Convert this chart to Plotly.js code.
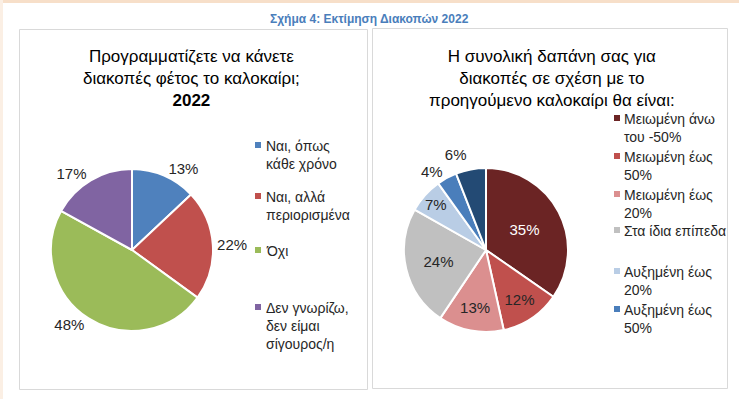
<!DOCTYPE html>
<html><head><meta charset="utf-8">
<script src="https://cdn.plot.ly/plotly-3.0.1.min.js"></script>
<style>html,body{margin:0;padding:0;background:#fff}</style>
</head><body><div id="chart" style="width:739px;height:399px"></div>
<script>
// ---- data ----
const chartTitle = 'Σχήμα 4: Εκτίμηση Διακοπών 2022';
const leftTitle = 'Προγραμματίζετε να κάνετε<br>διακοπές φέτος το καλοκαίρι;<br><b>2022</b>';
const leftLabels = ['Ναι, όπως κάθε χρόνο', 'Ναι, αλλά περιορισμένα', 'Όχι', 'Δεν γνωρίζω, δεν είμαι σίγουρος/η'];
const leftLegendText = ['Ναι, όπως<br>κάθε χρόνο', 'Ναι, αλλά<br>περιορισμένα', 'Όχι', 'Δεν γνωρίζω,<br>δεν είμαι<br>σίγουρος/η'];
const leftValues = [13, 22, 48, 17];

const rightTitle = 'Η συνολική δαπάνη σας για<br>διακοπές σε σχέση με το<br>προηγούμενο καλοκαίρι θα είναι:';
const rightLabels = ['Μειωμένη άνω του -50%', 'Μειωμένη έως 50%', 'Μειωμένη έως 20%', 'Στα ίδια επίπεδα', 'Αυξημένη έως 20%', 'Αυξημένη έως 50%', 'Αυξημένη άνω του 50%'];
const rightLegendText = ['Μειωμένη άνω<br>του -50%', 'Μειωμένη έως<br>50%', 'Μειωμένη έως<br>20%', 'Στα ίδια επίπεδα', 'Αυξημένη έως<br>20%', 'Αυξημένη έως<br>50%'];
const rightValues = [35, 12, 13, 24, 7, 4, 6];

// ---- style ----
const leftColors = ['#4f81bd', '#c0504d', '#9bbb59', '#8064a2'];
const rightColors = ['#6b2424', '#c0504d', '#db8f8f', '#c0c0c0', '#b9cde5', '#4a7ebb', '#234a74'];
const W = 739, H = 399;
const px = x => x / W, py = y => 1 - y / H;
const narrow = "'Liberation Sans Narrow', 'Arial Narrow', 'Liberation Sans', Arial, sans-serif";
const dark = '#262626';

const leftLegendY = [145, 196, 250, 307];
const rightLegendY = [118, 156, 194, 230, 271, 309];

const traces = [
  {
    type: 'pie', labels: leftLabels, values: leftValues, sort: false, direction: 'clockwise', rotation: 0,
    marker: {colors: leftColors, line: {color: '#ffffff', width: 2}},
    texttemplate: '%{value}%', textposition: 'outside', textfont: {family: narrow, size: 15, color: dark},
    domain: {x: [px(51), px(213)], y: [py(331), py(169)]}, showlegend: false, hoverinfo: 'label+value'
  },
  {
    type: 'pie', labels: rightLabels, values: rightValues, sort: false, direction: 'clockwise', rotation: 0,
    marker: {colors: rightColors, line: {color: '#ffffff', width: 2}},
    texttemplate: '%{value}%',
    textposition: ['inside', 'inside', 'inside', 'inside', 'inside', 'outside', 'outside'],
    insidetextorientation: 'horizontal',
    insidetextfont: {family: narrow, size: 15, color: ['#ffffff', dark, dark, dark, dark, dark, dark]},
    outsidetextfont: {family: narrow, size: 15, color: dark},
    domain: {x: [px(404), px(568)], y: [py(332), py(168)]}, showlegend: false, hoverinfo: 'label+value'
  }
];

const shapes = [
  {type: 'rect', xref: 'paper', yref: 'paper', x0: 0, x1: 1, y0: py(3), y1: 1, fillcolor: '#f7dfc9', line: {width: 0}, layer: 'below'},
  {type: 'rect', xref: 'paper', yref: 'paper', x0: 0, x1: px(3), y0: 0, y1: 1, fillcolor: '#fbefe4', line: {width: 0}, layer: 'below'},
  {type: 'rect', xref: 'paper', yref: 'paper', x0: px(19.5), x1: px(367.5), y0: py(389.5), y1: py(29.5), line: {color: '#d9d9d9', width: 1}, layer: 'below'},
  {type: 'rect', xref: 'paper', yref: 'paper', x0: px(372.5), x1: px(727.5), y0: py(388.5), y1: py(28.5), line: {color: '#d9d9d9', width: 1}, layer: 'below'}
];

const annotations = [
  {text: '<b>' + chartTitle + '</b>', x: px(369), y: py(19), xref: 'paper', yref: 'paper', showarrow: false,
   xanchor: 'center', yanchor: 'middle', font: {family: 'Liberation Sans, Arial, sans-serif', size: 12, color: '#4a7ebb'}},
  {text: leftTitle, x: px(191), y: py(78), xref: 'paper', yref: 'paper', showarrow: false,
   xanchor: 'center', yanchor: 'middle', font: {family: narrow, size: 17, color: '#000'}},
  {text: rightTitle, x: px(552), y: py(78), xref: 'paper', yref: 'paper', showarrow: false,
   xanchor: 'center', yanchor: 'middle', font: {family: narrow, size: 17, color: '#000'}}
];

function addLegend(texts, colors, ys, sqX, txtX) {
  texts.forEach((t, i) => {
    annotations.push({text: t, x: px(txtX), y: py(ys[i] - 9), xref: 'paper', yref: 'paper', showarrow: false,
      xanchor: 'left', yanchor: 'top', align: 'left', font: {family: narrow, size: 14, color: dark}});
    shapes.push({type: 'rect', xref: 'paper', yref: 'paper', x0: px(sqX - 3), x1: px(sqX + 3),
      y0: py(ys[i] + 3), y1: py(ys[i] - 3), fillcolor: colors[i], line: {width: 0}});
  });
}
addLegend(leftLegendText, leftColors, leftLegendY, 258, 264);
addLegend(rightLegendText, rightColors, rightLegendY, 617, 622);

Plotly.newPlot('chart', traces, {
  width: W, height: H, margin: {l: 0, r: 0, t: 0, b: 0},
  paper_bgcolor: '#ffffff', plot_bgcolor: '#ffffff',
  shapes: shapes, annotations: annotations, showlegend: false
}, {displayModeBar: false, staticPlot: true}).then(() => {
  // Reference has no leader lines on outside labels
  document.querySelectorAll('#chart path.textline').forEach(p => p.remove());
});
</script>
</body></html>
